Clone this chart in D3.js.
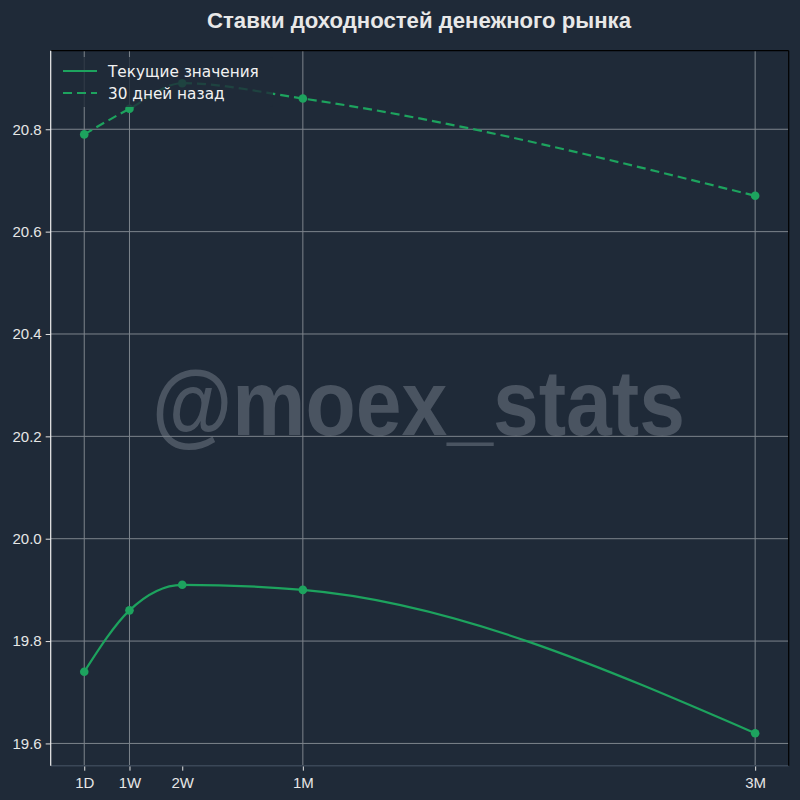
<!DOCTYPE html>
<html>
<head>
<meta charset="utf-8">
<script src="https://cdn.jsdelivr.net/npm/d3@7"></script>
<style>
  html, body { margin: 0; padding: 0; background: #1f2a38; }
  svg { display: block; }
</style>
</head>
<body>
<svg id="chart" width="800" height="800"></svg>
<script>
// ---- data ----
const tenorLabels = ["1D", "1W", "2W", "1M", "3M"];
const tenorDays = [1, 7, 14, 30, 90];
const currentValues = [19.74, 19.86, 19.91, 19.90, 19.62];
const monthAgoValues = [20.79, 20.84, 20.89, 20.86, 20.67];
const yTickValues = [19.6, 19.8, 20.0, 20.2, 20.4, 20.6, 20.8];
const gridTenors = ["1D", "1W", "1M", "3M"];
const seriesNames = ["Текущие значения", "30 дней назад"];
const titleText = "Ставки доходностей денежного рынка";
const watermarkText = "@moex_stats";

// ---- layout ----
const W = 800, H = 800;
const plot = { left: 50.7, right: 788.7, top: 50.7, bottom: 765.7 };
const bg = "#1f2a38";
const green = "#1da35e";

const svg = d3.select("#chart");
svg.append("rect").attr("width", W).attr("height", H).attr("fill", bg);

const allVals = currentValues.concat(monthAgoValues);
const yMin = d3.min(allVals), yMax = d3.max(allVals);
const yPad = (yMax - yMin) * 0.05;
const xMin = d3.min(tenorDays), xMax = d3.max(tenorDays);
const xPad = (xMax - xMin) * 0.05;

const x = d3.scaleLinear().domain([xMin - xPad, xMax + xPad]).range([plot.left, plot.right]);
const y = d3.scaleLinear().domain([yMin - yPad, yMax + yPad]).range([plot.bottom, plot.top]);

// title
svg.append("text")
  .attr("x", 207).attr("y", 28)
  .attr("font-family", "Liberation Sans, Arial, sans-serif")
  .attr("font-weight", "bold")
  .attr("font-size", 22.5)
  .attr("textLength", 424)
  .attr("lengthAdjust", "spacingAndGlyphs")
  .attr("fill", "#e8e8e8")
  .text(titleText);

// watermark
svg.append("text")
  .attr("x", 152).attr("y", 435)
  .attr("font-family", "Liberation Sans, Arial, sans-serif")
  .attr("font-weight", "bold")
  .attr("font-size", 92)
  .attr("textLength", 533)
  .attr("lengthAdjust", "spacingAndGlyphs")
  .attr("fill", "#4a5461")
  .text(watermarkText);

// grid
const grid = svg.append("g").attr("stroke", "#7d848c").attr("stroke-width", 1);
grid.selectAll("line.h").data(yTickValues).enter().append("line")
  .attr("x1", plot.left).attr("x2", plot.right)
  .attr("y1", d => y(d)).attr("y2", d => y(d));
grid.selectAll("line.v").data(tenorDays.filter((d, i) => gridTenors.includes(tenorLabels[i]))).enter().append("line")
  .attr("y1", plot.top).attr("y2", plot.bottom)
  .attr("x1", d => x(d)).attr("x2", d => x(d));

// axes
const yAxis = d3.axisLeft(y).tickValues(yTickValues).tickFormat(d3.format(".1f")).tickSize(5).tickPadding(4);
const yG = svg.append("g").attr("transform", `translate(${plot.left},0)`).call(yAxis);
yG.select(".domain").remove();
yG.selectAll(".tick line").attr("stroke", "#e0e0e0");
yG.selectAll(".tick text").attr("fill", "#e6e6e6")
  .attr("font-family", "Liberation Sans, Arial, sans-serif").attr("font-size", 15);

const xAxis = d3.axisBottom(x).tickValues(tenorDays).tickFormat((d, i) => tenorLabels[i]).tickSize(5).tickPadding(7);
const xG = svg.append("g").attr("transform", `translate(0,${plot.bottom})`).call(xAxis);
xG.select(".domain").remove();
xG.selectAll(".tick line").attr("stroke", "#e0e0e0");
xG.selectAll(".tick text").attr("fill", "#e6e6e6")
  .attr("font-family", "Liberation Sans, Arial, sans-serif").attr("font-size", 15);

// spines
svg.append("line").attr("x1", plot.left).attr("x2", plot.right).attr("y1", plot.bottom).attr("y2", plot.bottom)
  .attr("stroke", "#3a4757").attr("stroke-width", 1.5);
svg.append("line").attr("x1", plot.left).attr("x2", plot.right).attr("y1", plot.top).attr("y2", plot.top)
  .attr("stroke", "#000").attr("stroke-width", 1.2);
svg.append("line").attr("x1", plot.right).attr("x2", plot.right).attr("y1", plot.top).attr("y2", plot.bottom)
  .attr("stroke", "#000").attr("stroke-width", 1.2);
svg.append("line").attr("x1", plot.left).attr("x2", plot.left).attr("y1", plot.top).attr("y2", plot.bottom)
  .attr("stroke", "#f0f0f0").attr("stroke-width", 1.2);

// series
const series = [
  { name: seriesNames[0], values: currentValues, dash: null },
  { name: seriesNames[1], values: monthAgoValues, dash: "9,5" }
];
const line = d3.line().x(d => x(d[0])).y(d => y(d[1])).curve(d3.curveMonotoneX);
series.forEach(s => {
  const pts = tenorDays.map((d, i) => [d, s.values[i]]);
  svg.append("path").datum(pts)
    .attr("d", line).attr("fill", "none")
    .attr("stroke", green).attr("stroke-width", 2.2)
    .attr("stroke-dasharray", s.dash);
  svg.append("g").selectAll("circle").data(pts).enter().append("circle")
    .attr("cx", d => x(d[0])).attr("cy", d => y(d[1])).attr("r", 4.3)
    .attr("fill", green);
});

// legend
const lg = svg.append("g");
lg.append("rect").attr("x", 55).attr("y", 57).attr("width", 218).attr("height", 50)
  .attr("rx", 3).attr("fill", bg).attr("opacity", 0.8);
series.forEach((s, i) => {
  const yy = 71 + i * 22;
  lg.append("line").attr("x1", 63).attr("x2", 97).attr("y1", yy).attr("y2", yy)
    .attr("stroke", green).attr("stroke-width", 2.2).attr("stroke-dasharray", s.dash);
  lg.append("text").attr("x", 108).attr("y", yy + 5.5)
    .attr("font-family", "DejaVu Sans, sans-serif").attr("font-size", 15.3)
    .attr("fill", "#f2f2f2").text(s.name);
});
</script>
</body>
</html>
